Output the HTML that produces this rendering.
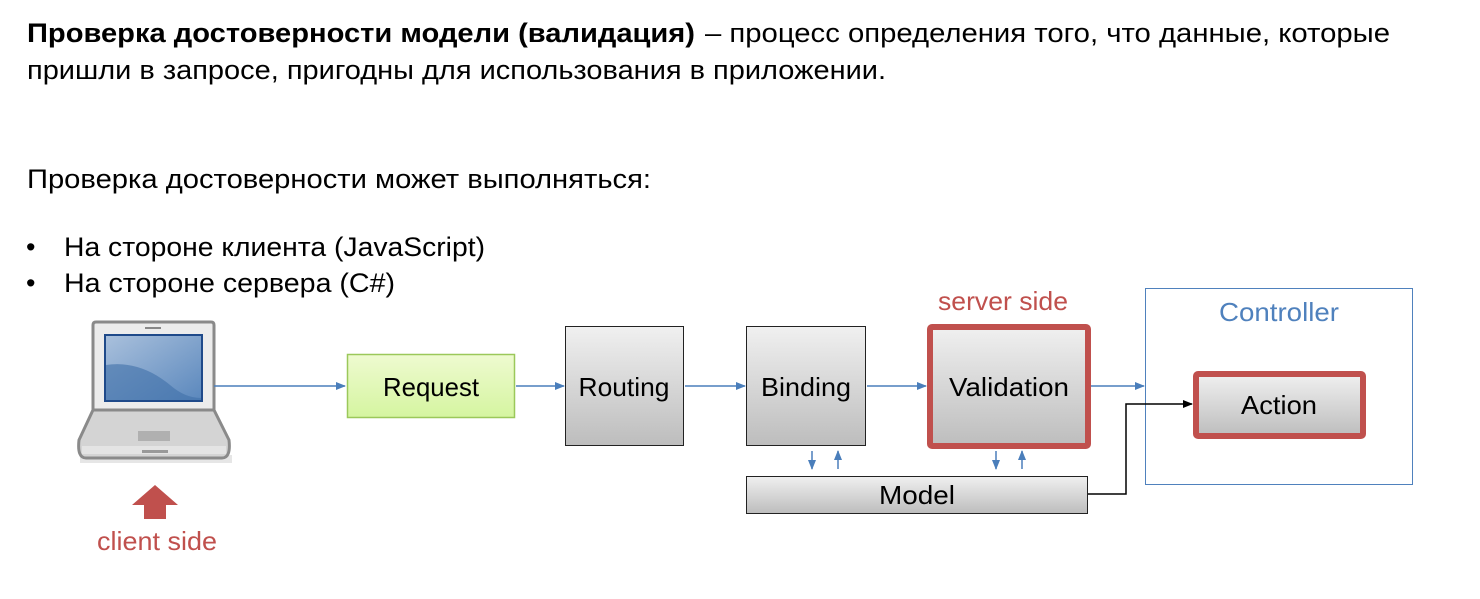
<!DOCTYPE html>
<html><head><meta charset="utf-8"><style>
html,body{margin:0;padding:0;background:#fff;width:1480px;height:599px;overflow:hidden}
svg text{font-family:"Liberation Sans","DejaVu Sans",sans-serif}
</style></head><body>
<svg width="1480" height="599" viewBox="0 0 1480 599" xmlns="http://www.w3.org/2000/svg">
<defs>
<linearGradient id="gr" x1="0" y1="0" x2="0" y2="1"><stop offset="0" stop-color="#f0f0f0"/><stop offset="1" stop-color="#bdbdbd"/></linearGradient>
<linearGradient id="gg" x1="0" y1="0" x2="0" y2="1"><stop offset="0" stop-color="#eefad0"/><stop offset="1" stop-color="#d5f5a0"/></linearGradient>
<linearGradient id="scr" x1="0" y1="0" x2="1" y2="1"><stop offset="0" stop-color="#a9c0dc"/><stop offset="1" stop-color="#5b88bd"/></linearGradient>
<marker id="ab" markerWidth="10" markerHeight="8" refX="9" refY="4" orient="auto" markerUnits="userSpaceOnUse"><path d="M0,0 L10,4 L0,8 Z" fill="#4a7ebb"/></marker>
<marker id="ak" markerWidth="10" markerHeight="8" refX="9" refY="4" orient="auto" markerUnits="userSpaceOnUse"><path d="M0,0 L10,4 L0,8 Z" fill="#000"/></marker>
</defs>
<g font-size="27" fill="#000">
<text x="27" y="42" font-weight="bold" textLength="668" lengthAdjust="spacingAndGlyphs">Проверка достоверности модели (валидация)</text>
<text x="705" y="42" textLength="685" lengthAdjust="spacingAndGlyphs">– процесс определения того, что данные, которые</text>
<text x="27" y="79" textLength="859" lengthAdjust="spacingAndGlyphs">пришли в запросе, пригодны для использования в приложении.</text>
<text x="27" y="188" textLength="624" lengthAdjust="spacingAndGlyphs">Проверка достоверности может выполняться:</text>
<text x="26" y="256">•</text>
<text x="64" y="256" textLength="421" lengthAdjust="spacingAndGlyphs">На стороне клиента (JavaScript)</text>
<text x="26" y="292">•</text>
<text x="64" y="292" textLength="331" lengthAdjust="spacingAndGlyphs">На стороне сервера (C#)</text>
</g>
<!-- laptop -->
<rect x="80" y="455" width="152" height="8" fill="#e6e6e6"/>
<path d="M93,325 Q93,322 96,322 L211,322 Q214,322 214,325 L214,410 L93,410 Z" fill="#ececec" stroke="#8a8a8a" stroke-width="3"/>
<rect x="145" y="327" width="16" height="2" fill="#888"/>
<rect x="104" y="334" width="99" height="68" fill="#1f4a8a"/>
<rect x="106" y="336" width="95" height="64" fill="url(#scr)"/>
<path d="M106,365 Q140,360 170,385 Q185,398 201,398 L201,400 L106,400 Z" fill="#3f6fa8" opacity="0.6"/>
<path d="M93,410 L214,410 L229,440 Q231,458 222,458 L86,458 Q77,458 79,440 Z" fill="#d4d4d4" stroke="#8a8a8a" stroke-width="3"/>
<rect x="138" y="431" width="32" height="10" fill="#b0b0b0"/>
<rect x="82" y="446" width="144" height="8" fill="#e4e4e4"/>
<rect x="142" y="450" width="26" height="3" fill="#999"/>
<!-- red arrow -->
<path d="M155,485 L178,505 L166,505 L166,519 L144,519 L144,505 L132,505 Z" fill="#c0504d"/>
<text x="157" y="550" font-size="26" fill="#c0504d" text-anchor="middle" textLength="120" lengthAdjust="spacingAndGlyphs">client side</text>
<!-- connectors -->
<g stroke="#4a7ebb" stroke-width="1.5" fill="none">
<line x1="214" y1="386" x2="345" y2="386" marker-end="url(#ab)"/>
<line x1="516" y1="386" x2="564" y2="386" marker-end="url(#ab)"/>
<line x1="685" y1="386" x2="745" y2="386" marker-end="url(#ab)"/>
<line x1="867" y1="386" x2="926" y2="386" marker-end="url(#ab)"/>
<line x1="1091" y1="386" x2="1144" y2="386" marker-end="url(#ab)"/>
<line x1="812" y1="451" x2="812" y2="469" marker-end="url(#ab)"/>
<line x1="838" y1="469" x2="838" y2="451" marker-end="url(#ab)"/>
<line x1="996" y1="451" x2="996" y2="469" marker-end="url(#ab)"/>
<line x1="1022" y1="469" x2="1022" y2="451" marker-end="url(#ab)"/>
</g>
<!-- boxes -->
<rect x="347.5" y="354.5" width="167" height="63" fill="url(#gg)" stroke="#9bc85a" stroke-width="1.5"/>
<text x="431" y="396" font-size="26" text-anchor="middle" textLength="96" lengthAdjust="spacingAndGlyphs">Request</text>
<rect x="565.5" y="326.5" width="118" height="119" fill="url(#gr)" stroke="#222" stroke-width="1"/>
<text x="624" y="396" font-size="26" text-anchor="middle" textLength="91" lengthAdjust="spacingAndGlyphs">Routing</text>
<rect x="746.5" y="326.5" width="119" height="119" fill="url(#gr)" stroke="#222" stroke-width="1"/>
<text x="806" y="396" font-size="26" text-anchor="middle" textLength="90" lengthAdjust="spacingAndGlyphs">Binding</text>
<rect x="930" y="327" width="158" height="119" fill="url(#gr)" stroke="#c0504d" stroke-width="6" rx="2"/>
<text x="1009" y="396" font-size="26" text-anchor="middle" textLength="120" lengthAdjust="spacingAndGlyphs">Validation</text>
<text x="1003" y="310" font-size="26" fill="#c0504d" text-anchor="middle" textLength="130" lengthAdjust="spacingAndGlyphs">server side</text>
<rect x="746.5" y="476.5" width="341" height="37" fill="url(#gr)" stroke="#222" stroke-width="1"/>
<text x="917" y="504" font-size="26" text-anchor="middle" textLength="76" lengthAdjust="spacingAndGlyphs">Model</text>
<rect x="1145.5" y="288.5" width="267" height="196" fill="none" stroke="#4f81bd" stroke-width="1"/>
<text x="1279" y="321" font-size="26" fill="#4f81bd" text-anchor="middle" textLength="120" lengthAdjust="spacingAndGlyphs">Controller</text>
<rect x="1196" y="374" width="167" height="62" fill="url(#gr)" stroke="#c0504d" stroke-width="6" rx="2"/>
<text x="1279" y="414" font-size="26" text-anchor="middle" textLength="76" lengthAdjust="spacingAndGlyphs">Action</text>
<path d="M1088,494 L1126,494 L1126,404 L1192,404" stroke="#000" stroke-width="1.5" fill="none" marker-end="url(#ak)"/>
</svg>
</body></html>
